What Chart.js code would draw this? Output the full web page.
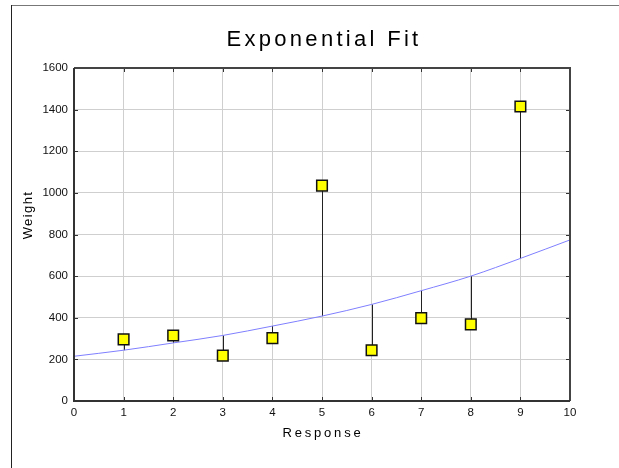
<!DOCTYPE html>
<html>
<head>
<meta charset="utf-8">
<script src="https://cdn.jsdelivr.net/npm/chart.js@4"></script>
<style>
  html, body { margin: 0; padding: 0; background: #fff; }
  #wrap { width: 619px; height: 468px; position: relative; }
</style>
</head>
<body>
<div id="wrap"><canvas id="fitChart" width="619" height="468"></canvas></div>
<script>
// observed points
const responses = [1, 2, 3, 4, 5, 6, 7, 8, 9];
const weights = [296, 315, 218, 302, 1035, 244, 398, 368, 1415];

// fitted curve at each x
const fitX = [0, 1, 2, 3, 4, 5, 6, 7, 8, 9, 10];
const fitY = [215, 244, 279, 315, 360, 408, 464, 530, 600, 685, 774];

const xTicks = [0, 1, 2, 3, 4, 5, 6, 7, 8, 9, 10];
const yTicks = [0, 200, 400, 600, 800, 1000, 1200, 1400, 1600];

const chartTitle = "Exponential Fit";
const xTitle = "Response";
const yTitle = "Weight";

// residual lines + frame + titles
const decor = {
  id: 'decor',
  beforeDatasetsDraw(chart) {
    const ctx = chart.ctx;
    const xs = chart.scales.x, ys = chart.scales.y;
    ctx.save();
    ctx.strokeStyle = '#222';
    ctx.lineWidth = 1;
    responses.forEach(function (r, i) {
      const px = Math.round(xs.getPixelForValue(r)) + 0.5;
      const fy = fitY[fitX.indexOf(r)];
      ctx.beginPath();
      ctx.moveTo(px, ys.getPixelForValue(fy));
      ctx.lineTo(px, ys.getPixelForValue(weights[i]));
      ctx.stroke();
    });
    ctx.restore();
  },
  afterDraw(chart) {
    const ctx = chart.ctx;
    const a = chart.chartArea;
    const xs = chart.scales.x, ys = chart.scales.y;
    ctx.save();

    // small inward ticks
    ctx.strokeStyle = '#333';
    ctx.lineWidth = 1;
    xTicks.forEach(function (t) {
      const px = Math.round(xs.getPixelForValue(t)) + 0.5;
      ctx.beginPath();
      ctx.moveTo(px, a.bottom); ctx.lineTo(px, a.bottom - 4);
      ctx.moveTo(px, a.top); ctx.lineTo(px, a.top + 4);
      ctx.stroke();
    });
    yTicks.forEach(function (t) {
      const py = Math.round(ys.getPixelForValue(t)) + 0.5;
      ctx.beginPath();
      ctx.moveTo(a.left, py); ctx.lineTo(a.left + 4, py);
      ctx.moveTo(a.right, py); ctx.lineTo(a.right - 4, py);
      ctx.stroke();
    });

    // axis box
    ctx.lineWidth = 2;
    ctx.strokeStyle = '#444';
    ctx.beginPath();
    ctx.moveTo(a.left, a.top); ctx.lineTo(a.right, a.top); ctx.lineTo(a.right, a.bottom);
    ctx.stroke();
    ctx.strokeStyle = '#333';
    ctx.beginPath();
    ctx.moveTo(a.left, a.top); ctx.lineTo(a.left, a.bottom); ctx.lineTo(a.right, a.bottom);
    ctx.stroke();

    // outer frame (top + left only)
    ctx.lineWidth = 1;
    ctx.strokeStyle = '#777';
    ctx.beginPath(); ctx.moveTo(11, 5.5); ctx.lineTo(619, 5.5); ctx.stroke();
    ctx.strokeStyle = '#222';
    ctx.beginPath(); ctx.moveTo(11.5, 5); ctx.lineTo(11.5, 468); ctx.stroke();

    // texts
    ctx.fillStyle = '#000';
    ctx.textAlign = 'center';
    ctx.textBaseline = 'alphabetic';
    ctx.font = '22px "Liberation Sans", Arial, sans-serif';
    ctx.letterSpacing = '3.3px';
    ctx.fillText(chartTitle, 324, 46);

    ctx.font = '13px "Liberation Sans", Arial, sans-serif';
    ctx.letterSpacing = '2.8px';
    ctx.fillText(xTitle, 323, 437);

    ctx.letterSpacing = '1.4px';
    ctx.translate(32, 215);
    ctx.rotate(-Math.PI / 2);
    ctx.fillText(yTitle, 0, 0);
    ctx.restore();
  }
};

const ctx = document.getElementById('fitChart').getContext('2d');

new Chart(ctx, {
  type: 'scatter',
  data: {
    datasets: [{
      label: 'Weight',
      data: responses.map(function (r, i) { return { x: r, y: weights[i] }; }),
      pointStyle: 'rect',
      pointRadius: 7.5,
      pointHoverRadius: 7.5,
      backgroundColor: '#ffff00',
      borderColor: '#111',
      borderWidth: 1.5
    }, {
      label: 'Fit',
      data: fitX.map(function (x, i) { return { x: x, y: fitY[i] }; }),
      showLine: true,
      pointRadius: 0,
      borderColor: '#7f7fff',
      borderWidth: 1,
      cubicInterpolationMode: 'monotone'
    }]
  },
  options: {
    responsive: false,
    animation: false,
    layout: { padding: { left: 0, right: 49, top: 68, bottom: 0 } },
    plugins: {
      legend: { display: false },
      title: { display: false },
      tooltip: { enabled: false }
    },
    scales: {
      x: {
        type: 'linear',
        min: 0, max: 10,
        afterFit: function (s) { s.height = 67; },
        border: { display: false },
        grid: { color: '#cfcfcf', lineWidth: 1, drawTicks: false },
        ticks: {
          stepSize: 1, padding: 5, color: '#111', maxRotation: 0,
          callback: function (v) { return String(v); },
          font: { family: '"Liberation Sans", Arial', size: 11.5 }
        }
      },
      y: {
        type: 'linear',
        min: 0, max: 1600,
        afterFit: function (s) { s.width = 74; },
        border: { display: false },
        grid: { color: '#cfcfcf', lineWidth: 1, drawTicks: false },
        ticks: {
          stepSize: 200, padding: 6, color: '#111',
          callback: function (v) { return String(v); },
          font: { family: '"Liberation Sans", Arial', size: 11.5 }
        }
      }
    }
  },
  plugins: [decor]
});
</script>
</body>
</html>
